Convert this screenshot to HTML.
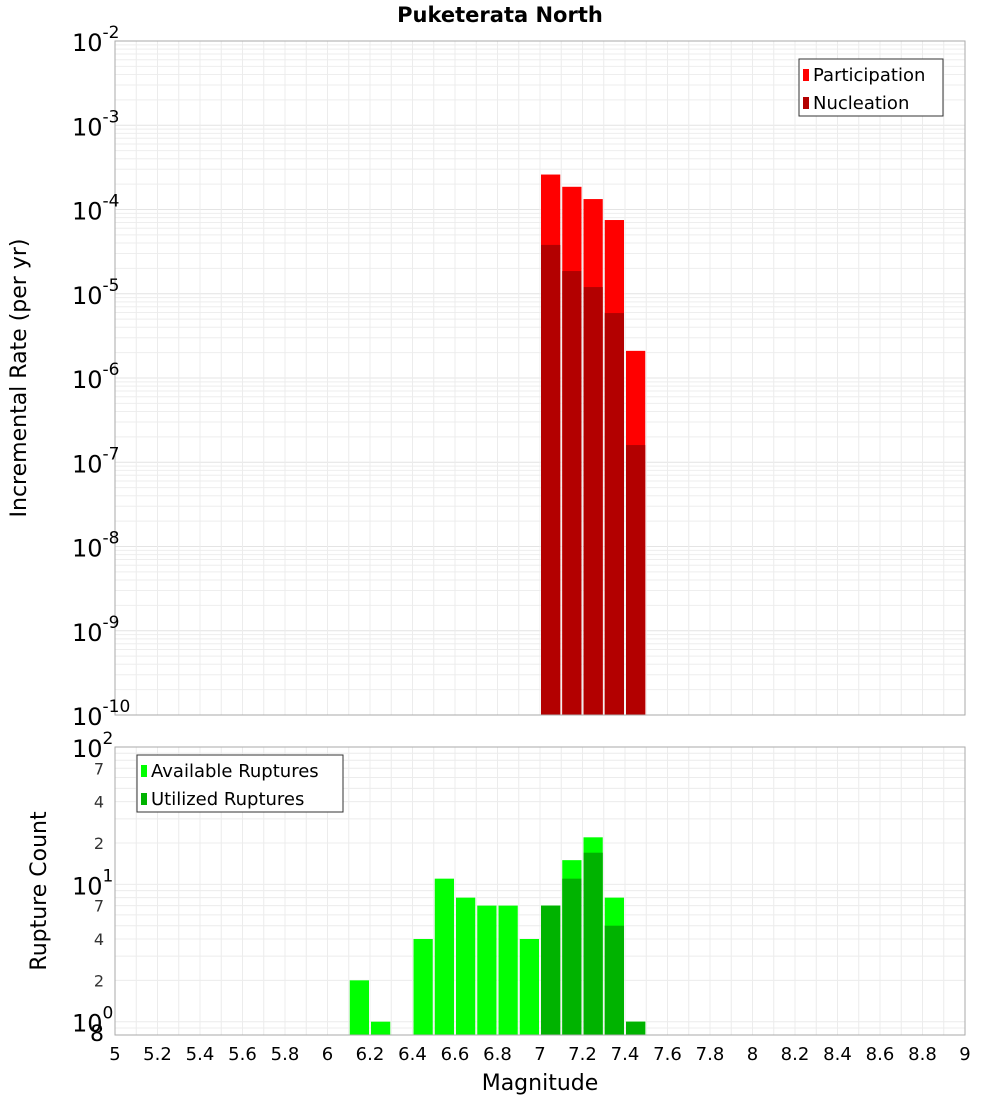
<!DOCTYPE html>
<html><head><meta charset="utf-8"><style>
body{margin:0;background:#fff;font-family:"Liberation Sans","DejaVu Sans",sans-serif}
svg text{font-family:"DejaVu Sans","Liberation Sans",sans-serif}
</style></head><body>
<svg id="c" width="1000" height="1100" xmlns="http://www.w3.org/2000/svg"></svg>
<script>
const magBins=[7.0,7.1,7.2,7.3,7.4];
const participation=[2.6e-4,1.86e-4,1.33e-4,7.5e-5,2.1e-6];
const nucleation=[3.8e-5,1.86e-5,1.2e-5,5.9e-6,1.6e-7];
const countBins=[6.1,6.2,6.4,6.5,6.6,6.7,6.8,6.9,7.0,7.1,7.2,7.3,7.4];
const available=[2,1,4,11,8,7,7,4,7,15,22,8,1];
const utilized=[0,0,0,0,0,0,0,0,7,11,17,5,1];
const xTicks=[5,5.2,5.4,5.6,5.8,6,6.2,6.4,6.6,6.8,7,7.2,7.4,7.6,7.8,8,8.2,8.4,8.6,8.8,9];
const topExps=[-2,-3,-4,-5,-6,-7,-8,-9,-10];
const botMinor=[2,4,7,20,40,70];

const svg=document.getElementById('c');
const NS='http://www.w3.org/2000/svg';
function el(t,a,p){const e=document.createElementNS(NS,t);for(const k in a)e.setAttribute(k,a[k]);(p||svg).appendChild(e);return e;}
const L=115,R=965;
const x=v=>L+(v-5)/4*(R-L);
const T0=41,T1=715;
const yTop=v=>T0+(-2-Math.log10(v))*(T1-T0)/8;
const B0=747,B1=1035;
const yBot=v=>B1-(Math.log10(v)-Math.log10(0.8))*(B1-B0)/(2-Math.log10(0.8));

// top grid
for(let e=-10;e<-2;e++)for(let m=1;m<10;m++){const y=yTop(m*Math.pow(10,e));const g=el('line',{x1:L,x2:R,y1:y,y2:y,stroke:m==1?'#e4e4e4':'#eeeeee','stroke-width':1});}
for(let v=5.1;v<9;v+=0.1){const xx=x(v);el('line',{x1:xx,x2:xx,y1:T0,y2:T1,stroke:'#ececec'});el('line',{x1:xx,x2:xx,y1:B0,y2:B1,stroke:'#ececec'});}
// bottom grid
[0.8,0.9,1,2,3,4,5,6,7,8,9,10,20,30,40,50,60,70,80,90,100].forEach(v=>{const y=yBot(v);el('line',{x1:L,x2:R,y1:y,y2:y,stroke:'#ececec'});});

// top bars
const bw=(R-L)/40;
magBins.forEach((m,i)=>{
 const r=el('rect',{x:x(m)+1,y:yTop(participation[i]),width:bw-2,height:T1-yTop(participation[i]),fill:'#ff0000'});
 
 const n=el('rect',{x:x(m)+1,y:yTop(nucleation[i]),width:bw-2,height:T1-yTop(nucleation[i]),fill:'#b30000'});
 
});
// bottom bars
countBins.forEach((m,i)=>{
 const r=el('rect',{x:x(m)+1,y:yBot(available[i]),width:bw-2,height:B1-yBot(available[i]),fill:'#00ff00'});
 
 if(utilized[i]>0){const u=el('rect',{x:x(m)+1,y:yBot(utilized[i]),width:bw-2,height:B1-yBot(utilized[i]),fill:'#00b300'});
 }
});
// frames
el('rect',{x:L,y:T0,width:R-L,height:T1-T0,fill:'none',stroke:'#aaa'});
el('rect',{x:L,y:B0,width:R-L,height:B1-B0,fill:'none',stroke:'#aaa'});

// top y labels
topExps.forEach(e=>{const y=yTop(Math.pow(10,e));const t=el('text',{x:72,y:y+10,'font-size':24,fill:'#000'});t.textContent='10';
 const s=el('tspan',{dy:-13,'font-size':17},t);s.textContent=String(e);
 });
// bottom y labels
[[1,'0'],[10,'1'],[100,'2']].forEach(([v,e])=>{const y=yBot(v);const t=el('text',{x:72,y:y+10,'font-size':24});t.textContent='10';
 const s=el('tspan',{dy:-13,'font-size':17},t);s.textContent=e;});
botMinor.forEach(v=>{const t=el('text',{x:104,y:yBot(v)+6,'font-size':16,'text-anchor':'end',fill:'#333'});t.textContent=String(v).charAt(0);});
el('text',{x:104,y:yBot(0.8)+6,'font-size':22,'text-anchor':'end'}).textContent='8';
// x labels
xTicks.forEach(v=>{const t=el('text',{x:x(v),y:1060,'font-size':18,'text-anchor':'middle'});t.textContent=String(v);
 });
// titles
const ti=el('text',{x:500,y:22,'font-size':21,'font-weight':'bold','text-anchor':'middle'});ti.textContent='Puketerata North';

const xt=el('text',{x:540,y:1090,'font-size':22,'text-anchor':'middle'});xt.textContent='Magnitude';

const yt=el('text',{x:0,y:0,'font-size':22,'text-anchor':'middle',transform:'translate(26,378) rotate(-90)'});yt.textContent='Incremental Rate (per yr)';

const yt2=el('text',{x:0,y:0,'font-size':22,'text-anchor':'middle',transform:'translate(46,891) rotate(-90)'});yt2.textContent='Rupture Count';

// legends
function legend(x0,y0,w,items,name){const g=el('g',{});
 el('rect',{x:x0,y:y0,width:w,height:57,fill:'#fff',stroke:'#333'},g);
 items.forEach(([c,l],i)=>{el('rect',{x:x0+4,y:y0+10+i*28,width:6,height:12,fill:c},g);const t=el('text',{x:x0+14,y:y0+22+i*28,'font-size':18},g);t.textContent=l;});}
legend(799,59,144,[['#ff0000','Participation'],['#b30000','Nucleation']],'legend-top');
legend(137,755,206,[['#00ff00','Available Ruptures'],['#00b300','Utilized Ruptures']],'legend-bottom');
</script>
</body></html>
